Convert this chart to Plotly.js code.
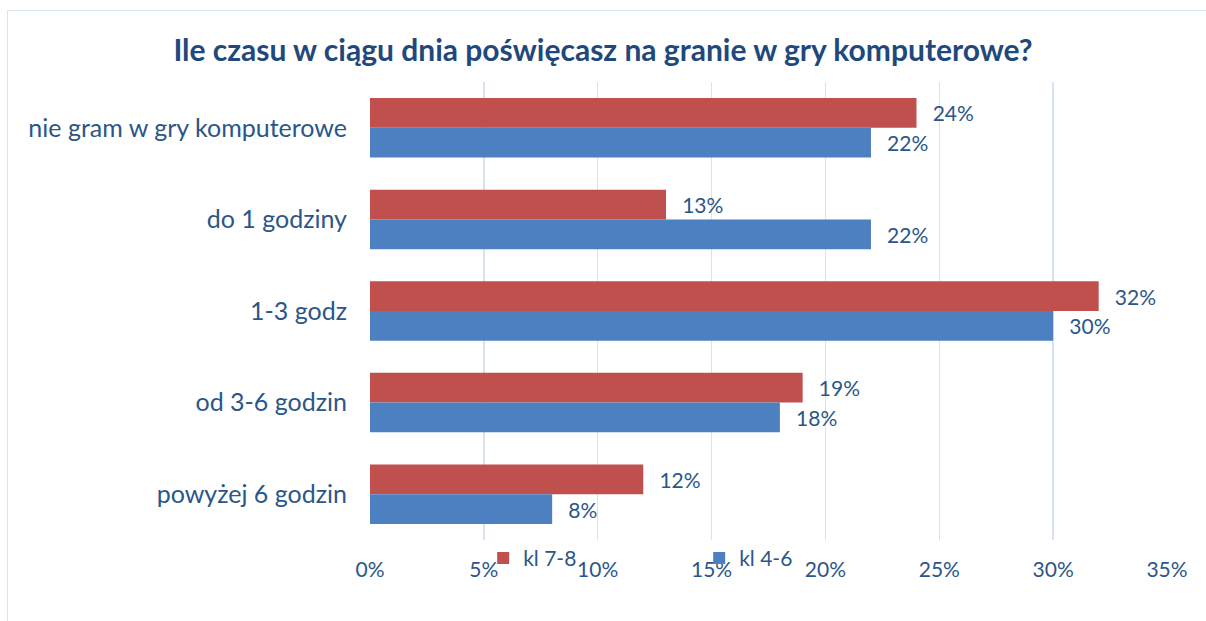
<!DOCTYPE html>
<html><head><meta charset="utf-8">
<script src="https://cdn.plot.ly/plotly-3.0.1.min.js"></script>
<style>
html,body{margin:0;padding:0;background:#fff;}
#wrap{position:relative;width:1206px;height:621px;}
#chart{position:absolute;left:0;top:0;width:1206px;height:621px;}
#frame{position:absolute;left:7px;top:10px;width:1206px;height:620px;border:1.5px solid #D6E4F5;box-sizing:border-box;pointer-events:none;}
</style></head>
<body>
<div id="wrap"><div id="chart"></div><div id="frame"></div></div>
<script>
const categories = ["nie gram w gry komputerowe","do 1 godziny","1-3 godz","od 3-6 godzin","powyżej 6 godzin"];
const kl78 = [0.24,0.13,0.32,0.19,0.12];
const kl46 = [0.22,0.22,0.30,0.18,0.08];
const seriesNames = ["kl 7-8","kl 4-6"];
const tickVals = [0,0.05,0.10,0.15,0.20,0.25,0.30,0.35];

const txt = '#2A5788';
const FONT = 'Lato, "Open Sans", sans-serif';
const lblFont = {family: FONT, size: 21, color: txt};
const pad = '\u2002\u2009';

const traces = [
  {type:'bar', orientation:'h', name:seriesNames[0], y:categories, x:kl78,
   marker:{color:'#C0504D'}, text:kl78.map(v=>pad+Math.round(v*100)+'%'),
   textposition:'outside', textfont:lblFont, cliponaxis:false},
  {type:'bar', orientation:'h', name:seriesNames[1], y:categories, x:kl46,
   marker:{color:'#4D80C0'}, text:kl46.map(v=>pad+Math.round(v*100)+'%'),
   textposition:'outside', textfont:lblFont, cliponaxis:false}
];

const layout = {
  width:1206, height:621,
  margin:{l:370, r:39, t:82, b:81},
  paper_bgcolor:'rgba(0,0,0,0)', plot_bgcolor:'#fff',
  title:{text:'<b>Ile czasu w ciągu dnia poświęcasz na granie w gry komputerowe?</b>',
         font:{family:FONT, size:30, color:'#1F497D'}, x:0.5, xanchor:'center', y:0.918, yanchor:'middle'},
  barmode:'group', bargap:0.35, bargroupgap:0,
  xaxis:{range:[0,0.35], tickvals:tickVals, tickformat:'.0%', showgrid:true,
         gridcolor:'#D9E3F0', gridwidth:1.3, zeroline:false, showline:false,
         ticks:'', ticklabelstandoff:15, tickfont:{family:FONT, size:21, color:txt}, fixedrange:true},
  yaxis:{categoryorder:'array', categoryarray:categories, autorange:'reversed',
         showgrid:false, zeroline:false, showline:false, ticks:'', ticklabelstandoff:22,
         tickfont:{family:FONT, size:25, color:txt}},
  showlegend:true,
  legend:{orientation:'h', x:0.142, xanchor:'left', y:-0.04, yanchor:'middle',
          entrywidth:171, entrywidthmode:'pixels', bgcolor:'rgba(0,0,0,0)',
          font:{family:FONT, size:21, color:txt}, itemwidth:30, traceorder:'normal'}
};

Plotly.newPlot('chart', traces, layout, {staticPlot:true});
</script>
</body></html>
